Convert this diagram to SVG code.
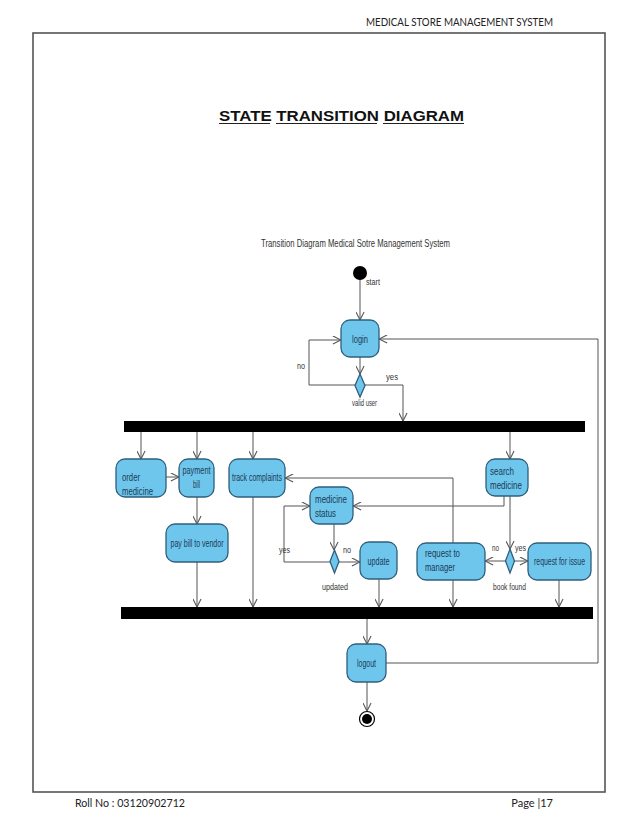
<svg xmlns="http://www.w3.org/2000/svg" width="638" height="826" viewBox="0 0 638 826">
<style>
.page{font-family:"Lato","Open Sans","Liberation Sans",sans-serif;font-size:11px;fill:#222}
.lbl{font-family:"Liberation Sans",Arial,sans-serif;font-size:10px;fill:#1c3a55}
.sm{font-family:"Liberation Sans",Arial,sans-serif;font-size:9px;fill:#333}
.node{fill:#6fc6ec;stroke:#2f5f7c;stroke-width:1.3}
.conn{fill:none;stroke:#555;stroke-width:1}
.bar{fill:#000}
</style>
<defs>
<marker id="arr" viewBox="0 0 10 10" refX="9.5" refY="5" markerWidth="9" markerHeight="9" markerUnits="userSpaceOnUse" orient="auto">
<path d="M0.5,0.5 L9.5,5 L0.5,9.5" fill="none" stroke="#555" stroke-width="1.2"/>
</marker>
</defs>
<rect width="638" height="826" fill="#fff"/>
<g id="page">
<text class="page" x="553" y="26" text-anchor="end" textLength="187" lengthAdjust="spacingAndGlyphs">MEDICAL STORE MANAGEMENT SYSTEM</text>
<rect x="33" y="33" width="572" height="759" fill="none" stroke="#555" stroke-width="1.6"/>
<text x="219" y="121" font-family="Liberation Sans,Arial,sans-serif" font-weight="bold" font-size="15.5" fill="#111" textLength="245" lengthAdjust="spacingAndGlyphs">STATE TRANSITION DIAGRAM</text>
<g stroke="#222" stroke-width="1.2">
<line x1="219" y1="123.5" x2="270" y2="123.5"/>
<line x1="276" y1="123.5" x2="377" y2="123.5"/>
<line x1="383" y1="123.5" x2="464" y2="123.5"/>
</g>
<text class="page" x="75" y="807" textLength="110" lengthAdjust="spacingAndGlyphs">Roll No : 03120902712</text>
<text class="page" x="553" y="807" text-anchor="end">Page |17</text>
<text x="261" y="247" font-family="Liberation Sans,Arial,sans-serif" font-size="10.5" fill="#333" textLength="189" lengthAdjust="spacingAndGlyphs">Transition Diagram Medical Sotre Management System</text>
</g>
<g id="connectors">
<line class="conn" x1="360" y1="279" x2="360" y2="320" marker-end="url(#arr)"/>
<line class="conn" x1="360" y1="357" x2="360" y2="374" marker-end="url(#arr)"/>
<polyline class="conn" points="355,385 309,385 309,340 341,340" marker-end="url(#arr)"/>
<polyline class="conn" points="365,385 403,385 403,421" marker-end="url(#arr)"/>
<polyline class="conn" points="386,663 598,663 598,339 379,339" marker-end="url(#arr)"/>
<line class="conn" x1="141" y1="432" x2="141" y2="459" marker-end="url(#arr)"/>
<line class="conn" x1="197" y1="432" x2="197" y2="459" marker-end="url(#arr)"/>
<line class="conn" x1="253" y1="432" x2="253" y2="459" marker-end="url(#arr)"/>
<line class="conn" x1="510" y1="432" x2="510" y2="459" marker-end="url(#arr)"/>
<line class="conn" x1="166" y1="477" x2="179" y2="477" marker-end="url(#arr)"/>
<line class="conn" x1="197" y1="497" x2="197" y2="524" marker-end="url(#arr)"/>
<line class="conn" x1="197" y1="562" x2="197" y2="607" marker-end="url(#arr)"/>
<line class="conn" x1="253" y1="497" x2="253" y2="607" marker-end="url(#arr)"/>
<polyline class="conn" points="453,543 453,478 285,478" marker-end="url(#arr)"/>
<polyline class="conn" points="504,496 504,506 353,506" marker-end="url(#arr)"/>
<line class="conn" x1="334" y1="524" x2="334" y2="550" marker-end="url(#arr)"/>
<polyline class="conn" points="330,562 284,562 284,506 310,506" marker-end="url(#arr)"/>
<line class="conn" x1="339" y1="562" x2="360" y2="562" marker-end="url(#arr)"/>
<line class="conn" x1="379" y1="579" x2="379" y2="607" marker-end="url(#arr)"/>
<line class="conn" x1="453" y1="580" x2="453" y2="607" marker-end="url(#arr)"/>
<line class="conn" x1="510" y1="496" x2="510" y2="549" marker-end="url(#arr)"/>
<line class="conn" x1="506" y1="561" x2="485" y2="561" marker-end="url(#arr)"/>
<line class="conn" x1="514" y1="561" x2="528" y2="561" marker-end="url(#arr)"/>
<line class="conn" x1="559" y1="580" x2="559" y2="607" marker-end="url(#arr)"/>
<line class="conn" x1="367" y1="619" x2="367" y2="644" marker-end="url(#arr)"/>
<line class="conn" x1="367" y1="682" x2="367" y2="711" marker-end="url(#arr)"/>
<text class="sm" x="366" y="285" textLength="14" lengthAdjust="spacingAndGlyphs">start</text>
<text class="sm" x="297" y="369" textLength="8" lengthAdjust="spacingAndGlyphs">no</text>
<text class="sm" x="386" y="380" textLength="12" lengthAdjust="spacingAndGlyphs">yes</text>
<text class="sm" x="279" y="553" textLength="11" lengthAdjust="spacingAndGlyphs">yes</text>
<text class="sm" x="343" y="553" textLength="8" lengthAdjust="spacingAndGlyphs">no</text>
<text class="sm" x="492" y="551" textLength="7" lengthAdjust="spacingAndGlyphs">no</text>
<text class="sm" x="515" y="551" textLength="11" lengthAdjust="spacingAndGlyphs">yes</text>
</g>
<g id="start"><circle cx="360" cy="273" r="7" fill="#000"/></g>
<g id="login"><rect class="node" x="341" y="320" width="38" height="37" rx="9"/><text class="lbl" x="360" y="343" text-anchor="middle" textLength="16" lengthAdjust="spacingAndGlyphs">login</text></g>
<g id="valid-user"><polygon class="node" points="360,374 365,385.5 360,397 355,385.5"/><text class="sm" x="352" y="406" textLength="25" lengthAdjust="spacingAndGlyphs">valid user</text></g>
<g id="fork"><rect class="bar" x="124" y="421" width="461" height="11"/></g>
<g id="order-medicine"><rect class="node" x="116" y="459" width="50" height="38" rx="9"/><text class="lbl" x="122" y="481" textLength="18" lengthAdjust="spacingAndGlyphs">order</text><text class="lbl" x="122" y="495" textLength="31" lengthAdjust="spacingAndGlyphs">medicine</text></g>
<g id="payment-bill"><rect class="node" x="179" y="459" width="35" height="38" rx="9"/><text class="lbl" x="196.5" y="474" text-anchor="middle" textLength="28" lengthAdjust="spacingAndGlyphs">payment</text><text class="lbl" x="196.5" y="488" text-anchor="middle" textLength="7" lengthAdjust="spacingAndGlyphs">bill</text></g>
<g id="track-complaints"><rect class="node" x="229" y="459" width="56" height="38" rx="9"/><text class="lbl" x="257" y="481" text-anchor="middle" textLength="50" lengthAdjust="spacingAndGlyphs">track complaints</text></g>
<g id="search-medicine"><rect class="node" x="486" y="459" width="42" height="37" rx="9"/><text class="lbl" x="490" y="475" textLength="24" lengthAdjust="spacingAndGlyphs">search</text><text class="lbl" x="490" y="489" textLength="32" lengthAdjust="spacingAndGlyphs">medicine</text></g>
<g id="pay-bill-to-vendor"><rect class="node" x="166" y="524" width="62" height="38" rx="9"/><text class="lbl" x="197" y="547" text-anchor="middle" textLength="53" lengthAdjust="spacingAndGlyphs">pay bill to vendor</text></g>
<g id="medicine-status"><rect class="node" x="310" y="487" width="43" height="37" rx="9"/><text class="lbl" x="315" y="503" textLength="32" lengthAdjust="spacingAndGlyphs">medicine</text><text class="lbl" x="315" y="517" textLength="21" lengthAdjust="spacingAndGlyphs">status</text></g>
<g id="updated"><polygon class="node" points="334.5,550 339,561.5 334.5,573 330,561.5"/><text class="sm" x="322" y="590" textLength="26" lengthAdjust="spacingAndGlyphs">updated</text></g>
<g id="update"><rect class="node" x="360" y="542" width="37" height="37" rx="9"/><text class="lbl" x="378.5" y="565" text-anchor="middle" textLength="22" lengthAdjust="spacingAndGlyphs">update</text></g>
<g id="request-to-manager"><rect class="node" x="417" y="543" width="68" height="37" rx="9"/><text class="lbl" x="425" y="557" textLength="35" lengthAdjust="spacingAndGlyphs">request to</text><text class="lbl" x="425" y="571" textLength="30" lengthAdjust="spacingAndGlyphs">manager</text></g>
<g id="book-found"><polygon class="node" points="510,549 514.5,561 510,573 505.5,561"/><text class="sm" x="493" y="590" textLength="33" lengthAdjust="spacingAndGlyphs">book found</text></g>
<g id="request-for-issue"><rect class="node" x="528" y="543" width="63" height="37" rx="9"/><text class="lbl" x="559.5" y="565" text-anchor="middle" textLength="51" lengthAdjust="spacingAndGlyphs">request for issue</text></g>
<g id="join"><rect class="bar" x="121" y="607" width="472" height="12"/></g>
<g id="logout"><rect class="node" x="347" y="644" width="39" height="38" rx="9"/><text class="lbl" x="366.5" y="667" text-anchor="middle" textLength="19" lengthAdjust="spacingAndGlyphs">logout</text></g>
<g id="end"><circle cx="367" cy="719" r="7.5" fill="#fff" stroke="#000" stroke-width="1.2"/><circle cx="367" cy="719" r="5" fill="#000"/></g>
</svg>
